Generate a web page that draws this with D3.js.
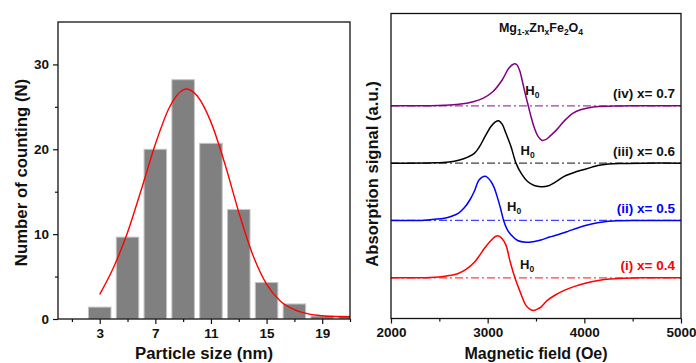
<!DOCTYPE html>
<html>
<head>
<meta charset="utf-8">
<script src="https://cdn.jsdelivr.net/npm/d3@7/dist/d3.min.js"></script>
<style>
  html, body { margin: 0; padding: 0; background: #fff; }
  svg { display: block; }
  text { font-family: "Liberation Sans", Arial, sans-serif; font-weight: bold; fill: #111; }
</style>
</head>
<body>
<svg id="chart" width="696" height="363"></svg>
<script>
// ---------- particle size histogram ----------
const sizeBins = [3, 5, 7, 9, 11, 13, 15, 17, 19, 21];          // nm, bin centres
const sizeCounts = [1.4, 9.65, 20.0, 28.2, 20.7, 12.9, 4.3, 1.77, 0.35, 0.35];
const fitSize = [3, 4, 5, 6, 7, 8, 9, 9.25, 10, 11, 12, 13, 14, 15, 16, 17, 18, 19, 20, 21];
const fitCount = [2.9, 6.1, 10.2, 15.3, 20.6, 24.9, 27.0, 27.1, 26.3, 23.2, 18.3, 12.6, 7.6, 4.1, 2.1, 1.1, 0.6, 0.38, 0.29, 0.26];
const sizeTicks = [3, 7, 11, 15, 19];
const sizeMinorTicks = [1, 5, 9, 13, 17, 21];
const countTicks = [0, 10, 20, 30];
const countMinorTicks = [5, 15, 25];

// ---------- EPR spectra, Mg(1-x)Zn(x)Fe2O4 ----------
const fieldTicks = [2000, 3000, 4000, 5000];
const fieldMinorTicks = [2500, 3500, 4500];
const sampleLabels = ["(i) x= 0.4", "(ii) x= 0.5", "(iii) x= 0.6", "(iv) x= 0.7"];
const sampleOffsets = [0, 1, 2, 3];
// resonance field label position (Oe) for each spectrum
const h0Field = [3335, 3200, 3340, 3390];
const h0Level = [0.15, 0.17, 0.15, 0.18];

const specI = [[2000,0],[2400,0.005],[2517,0.02],[2600,0.04],[2689,0.07],[2780,0.15],[2862,0.27],[2920,0.4],[2965,0.51],[3034,0.65],[3080,0.72],[3113,0.73],[3150,0.68],[3189,0.57],[3234,0.27],[3282,0],[3344,-0.28],[3396,-0.48],[3440,-0.55],[3475,-0.57],[3510,-0.55],[3551,-0.51],[3620,-0.39],[3700,-0.3],[3792,-0.22],[3900,-0.15],[4000,-0.1],[4100,-0.06],[4206,-0.03],[4413,-0.01],[4600,0],[5000,0]];
const specII = [[2000,0],[2350,0.005],[2448,0.02],[2550,0.04],[2620,0.07],[2700,0.13],[2758,0.22],[2820,0.37],[2862,0.51],[2913,0.71],[2976,0.77],[3034,0.68],[3070,0.56],[3103,0.39],[3135,0.2],[3165,0],[3200,-0.15],[3241,-0.25],[3310,-0.35],[3396,-0.38],[3470,-0.37],[3551,-0.34],[3640,-0.29],[3724,-0.25],[3830,-0.19],[3930,-0.13],[4030,-0.08],[4137,-0.04],[4250,-0.015],[4350,-0.005],[4500,0],[5000,0]];
const specIII = [[2000,0],[2450,0.005],[2600,0.02],[2700,0.05],[2800,0.11],[2862,0.17],[2920,0.3],[2965,0.44],[3034,0.64],[3080,0.72],[3115,0.74],[3150,0.68],[3189,0.52],[3241,0.29],[3293,0],[3344,-0.17],[3413,-0.32],[3482,-0.39],[3550,-0.41],[3620,-0.4],[3700,-0.33],[3792,-0.23],[3900,-0.16],[4000,-0.11],[4080,-0.07],[4140,-0.04],[4250,-0.015],[4400,-0.005],[4600,0],[5000,0]];
const specIV = [[2000,0],[2400,0.002],[2550,0.008],[2700,0.025],[2850,0.07],[2950,0.13],[3050,0.24],[3150,0.45],[3220,0.66],[3270,0.73],[3300,0.72],[3330,0.62],[3360,0.42],[3390,0.2],[3420,0],[3450,-0.2],[3480,-0.37],[3520,-0.53],[3558,-0.6],[3600,-0.59],[3650,-0.52],[3713,-0.42],[3800,-0.25],[3880,-0.13],[3960,-0.07],[4090,-0.02],[4300,-0.005],[4500,0],[5000,0]];
const spectra = [specI, specII, specIII, specIV];
const specColors = ["#ff0000", "#0000ff", "#000000", "#800080"];
const labelColors = ["#ff0000", "#0000ff", "#111111", "#111111"];

const svg = d3.select("#chart");
const tickFont = 13.5;

// ================= left panel =================
const xL = d3.scaleLinear().domain([0, 21]).range([58, 350]);
const yL = d3.scaleLinear().domain([0, 35]).range([319, 22]);

const left = svg.append("g");
left.append("clipPath").attr("id", "clipL")
  .append("rect").attr("x", xL(0)).attr("y", yL(35)).attr("width", xL(21) - xL(0)).attr("height", yL(0) - yL(35));

const binW = 1.62;
left.append("g").attr("clip-path", "url(#clipL)")
  .selectAll("rect").data(sizeBins).join("rect")
  .attr("x", (d) => xL(d - binW / 2))
  .attr("width", (d) => xL(d + binW / 2) - xL(d - binW / 2))
  .attr("y", (d, i) => yL(sizeCounts[i]))
  .attr("height", (d, i) => yL(0) - yL(sizeCounts[i]))
  .attr("fill", "#808080")
  .attr("stroke", "#c4c4c4")
  .attr("stroke-width", 1);

left.append("path")
  .datum(fitSize.map((s, i) => [s, fitCount[i]]))
  .attr("clip-path", "url(#clipL)")
  .attr("fill", "none")
  .attr("stroke", "#ff0000")
  .attr("stroke-width", 1.4)
  .attr("d", d3.line().x((d) => xL(d[0])).y((d) => yL(d[1])).curve(d3.curveMonotoneX));

// frame
left.append("rect")
  .attr("x", xL(0)).attr("y", yL(35))
  .attr("width", xL(21) - xL(0)).attr("height", yL(0) - yL(35))
  .attr("fill", "none").attr("stroke", "#111").attr("stroke-width", 1.3);

function styleAxis(g) {
  g.select(".domain").remove();
  g.selectAll("line").attr("stroke", "#111").attr("stroke-width", 1.2);
  g.selectAll("text").attr("font-size", tickFont).attr("fill", "#111")
    .attr("font-family", '"Liberation Sans", Arial, sans-serif').attr("font-weight", "bold");
}

left.append("g").attr("transform", `translate(0,${yL(0)})`)
  .call(d3.axisBottom(xL).tickValues(sizeTicks).tickSize(5).tickPadding(4))
  .call(styleAxis);
left.append("g").attr("transform", `translate(0,${yL(0)})`)
  .call(d3.axisBottom(xL).tickValues(sizeMinorTicks).tickSize(3).tickFormat(""))
  .call(styleAxis);
left.append("g").attr("transform", `translate(${xL(0)},0)`)
  .call(d3.axisLeft(yL).tickValues(countTicks).tickSize(5).tickPadding(4))
  .call(styleAxis);
left.append("g").attr("transform", `translate(${xL(0)},0)`)
  .call(d3.axisLeft(yL).tickValues(countMinorTicks).tickSize(3).tickFormat(""))
  .call(styleAxis);

left.append("text")
  .attr("x", (xL(0) + xL(21)) / 2).attr("y", 358.5)
  .attr("text-anchor", "middle").attr("font-size", 16.8)
  .text("Particle size (nm)");
left.append("text")
  .attr("transform", `translate(27,${(yL(0) + yL(35)) / 2 + 2}) rotate(-90)`)
  .attr("text-anchor", "middle").attr("font-size", 16.8)
  .text("Number of counting (N)");

// ================= right panel =================
const xR = d3.scaleLinear().domain([2000, 5000]).range([391, 681]);
const yR = d3.scaleLinear().domain([-0.71, 4.61]).range([318.5, 13.5]);

const right = svg.append("g");

// dash-dot base lines
right.selectAll("line.base").data(sampleOffsets).join("line")
  .attr("class", "base")
  .attr("x1", xR(2000)).attr("x2", xR(5000))
  .attr("y1", (d) => yR(d)).attr("y2", (d) => yR(d))
  .attr("stroke", (d, i) => specColors[i])
  .attr("stroke-opacity", 0.75)
  .attr("stroke-width", 1.2)
  .attr("stroke-dasharray", "8,3,2,3");

const specLine = d3.line().curve(d3.curveCatmullRom.alpha(0.5));
right.selectAll("path.spec").data(spectra).join("path")
  .attr("class", "spec")
  .attr("fill", "none")
  .attr("stroke", (d, i) => specColors[i])
  .attr("stroke-width", 1.5)
  .attr("d", (d, i) => specLine(d.map((p) => [xR(p[0]), yR(p[1] + sampleOffsets[i])])));

right.append("rect")
  .attr("x", xR(2000)).attr("y", yR(4.61))
  .attr("width", xR(5000) - xR(2000)).attr("height", yR(-0.71) - yR(4.61))
  .attr("fill", "none").attr("stroke", "#111").attr("stroke-width", 1.3);

right.append("g").attr("transform", `translate(0,${yR(-0.71)})`)
  .call(d3.axisBottom(xR).tickValues(fieldTicks).tickSize(5).tickPadding(4).tickFormat(d3.format("d")))
  .call(styleAxis);
right.append("g").attr("transform", `translate(0,${yR(-0.71)})`)
  .call(d3.axisBottom(xR).tickValues(fieldMinorTicks).tickSize(3).tickFormat(""))
  .call(styleAxis);

// sample labels
right.selectAll("text.lab").data(sampleLabels).join("text")
  .attr("class", "lab")
  .attr("x", 675)
  .attr("y", (d, i) => yR(sampleOffsets[i]) - 7.5)
  .attr("text-anchor", "end")
  .attr("font-size", 13.5)
  .style("fill", (d, i) => labelColors[i])
  .text((d) => d);

// H0 markers
const h0 = right.selectAll("text.h0").data(sampleOffsets).join("text")
  .attr("class", "h0")
  .attr("x", (d, i) => xR(h0Field[i]))
  .attr("y", (d, i) => yR(d + h0Level[i]))
  .attr("font-size", 13);
h0.append("tspan").text("H");
h0.append("tspan").attr("font-size", 8.5).attr("dy", 3).text("0");

// compound formula
const title = right.append("text")
  .attr("x", (xR(2000) + xR(5000)) / 2 + 5).attr("y", 32)
  .attr("text-anchor", "middle").attr("font-size", 12.5);
[["Mg", 0], ["1-x", 1], ["Zn", 0], ["x", 1], ["Fe", 0], ["2", 1], ["O", 0], ["4", 1]].forEach(([t, sub], k, arr) => {
  const prevSub = k > 0 ? arr[k - 1][1] : 0;
  const ts = title.append("tspan").text(t);
  if (sub) ts.attr("font-size", 8.5).attr("dy", prevSub ? 0 : 3);
  else if (prevSub) ts.attr("dy", -3);
});

right.append("text")
  .attr("x", (xR(2000) + xR(5000)) / 2).attr("y", 358.5)
  .attr("text-anchor", "middle").attr("font-size", 16)
  .text("Magnetic field (Oe)");
right.append("text")
  .attr("transform", `translate(378,${(yR(-0.71) + yR(4.61)) / 2 + 8}) rotate(-90)`)
  .attr("text-anchor", "middle").attr("font-size", 16.6)
  .text("Absorption signal (a.u.)");
</script>
</body>
</html>
